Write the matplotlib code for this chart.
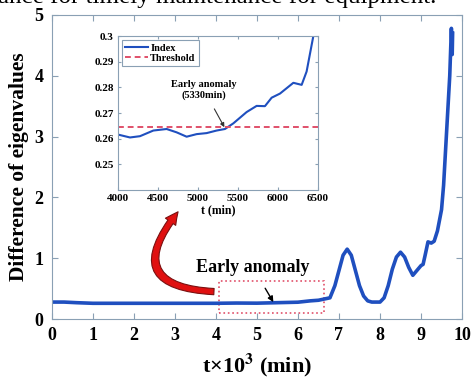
import matplotlib
matplotlib.use("Agg")
import matplotlib.pyplot as plt
from matplotlib.patches import Rectangle, FancyArrowPatch

plt.rcParams['font.family'] = ['Liberation Serif', 'DejaVu Serif']
plt.rcParams['mathtext.fontset'] = 'stix'
plt.rcParams['font.weight'] = 'bold'

# main series (t in 10^3 min)
t_main = [0.0, 0.3, 0.6, 1.0, 1.5, 2.0, 2.5, 3.0, 3.5, 4.0, 4.5, 5.0, 5.5, 6.0, 6.3, 6.5, 6.78,
          6.9, 7.0, 7.1, 7.2, 7.3, 7.4, 7.5, 7.6, 7.7, 7.8, 8.0, 8.1, 8.2, 8.3, 8.4, 8.5,
          8.6, 8.7, 8.8, 8.9, 9.0, 9.05, 9.1, 9.17, 9.25, 9.32, 9.4, 9.5, 9.55, 9.6, 9.65,
          9.7, 9.74, 9.76, 9.77]
v_main = [0.28, 0.28, 0.27, 0.26, 0.26, 0.26, 0.26, 0.26, 0.26, 0.26, 0.264, 0.262, 0.27, 0.278, 0.3, 0.31, 0.35,
          0.55, 0.8, 1.05, 1.15, 1.05, 0.8, 0.55, 0.38, 0.3, 0.28, 0.28, 0.35, 0.55, 0.82, 1.02, 1.1,
          1.02, 0.85, 0.72, 0.8, 0.88, 0.9, 1.05, 1.27, 1.25, 1.28, 1.45, 1.8, 2.2, 2.8, 3.4,
          4.0, 4.78, 4.35, 4.7]

# inset series (t in min)
t_zoom = [4004, 4150, 4275, 4442, 4608, 4733, 4858, 4983, 5108, 5233, 5337, 5442, 5608, 5733,
          5837, 5921, 6025, 6192, 6296, 6358, 6442]
v_zoom = [0.2616, 0.2605, 0.261, 0.2632, 0.2638, 0.2625, 0.2608, 0.2618, 0.2622, 0.2632, 0.2638,
          0.266, 0.2704, 0.2728, 0.2727, 0.276, 0.2776, 0.2818, 0.281, 0.2862, 0.30]
threshold = 0.2645

blue = '#1f4fbf'
red = '#e0506a'
spine_c = '#8aa0b4'

fig = plt.figure(figsize=(4.71, 3.84), dpi=100)
fig.text(-0.005, 0.992, 'ance for timely maintenance for equipment.', fontsize=18,
         fontweight='normal', ha='left', va='baseline')

ax = fig.add_axes([0.110, 0.169, 0.871, 0.792])
ax.plot(t_main, v_main, color=blue, lw=2.6)
ax.set_xlim(0, 10)
ax.set_ylim(0, 5)
ax.set_xticks(range(0, 11))
ax.set_yticks(range(0, 6))
ax.tick_params(direction='in', top=True, right=True, color=spine_c, labelsize=13,
               length=4, pad=6)
for lab in ax.get_xticklabels() + ax.get_yticklabels():
    lab.set_fontweight('bold')
for s in ax.spines.values():
    s.set_color(spine_c)
ax.set_xlabel(r't×10$^{\mathbf{3}}$ (min)', fontsize=16, fontweight='bold', labelpad=5)
ax.set_ylabel('Difference of eigenvalues', fontsize=15.5, fontweight='bold', labelpad=4)

ax.add_patch(Rectangle((4.07, 0.1), 2.56, 0.52, fill=False, edgecolor=red, lw=1.2,
                       linestyle=':'))
ax.annotate('Early anomaly', xy=(5.4, 0.28), xytext=(4.9, 0.85), fontsize=13,
            fontweight='bold', ha='center', va='center',
            arrowprops=dict(arrowstyle='-|>', color='black', lw=1.0,
                            shrinkA=8, shrinkB=0, mutation_scale=8))

arrow = FancyArrowPatch((4.02, 0.45), (3.12, 1.80), connectionstyle='arc3,rad=-1.0',
                        arrowstyle='simple,head_width=9,head_length=9,tail_width=4.5',
                        facecolor='#e01010', edgecolor='#7a1010', lw=0.8,
                        transform=ax.transData)
ax.add_patch(arrow)

ins = fig.add_axes([0.2505, 0.505, 0.4246, 0.401])
ins.plot(t_zoom, v_zoom, color=blue, lw=1.5, label='Index')
ins.axhline(threshold, color=red, lw=1.4, ls=(0, (3, 2)), label='Threshold')
ins.set_xlim(4000, 6500)
ins.set_ylim(0.24, 0.30)
ins.set_xticks([4000, 4500, 5000, 5500, 6000, 6500])
ins.set_yticks([0.25, 0.26, 0.27, 0.28, 0.29, 0.3])
ins.set_yticklabels(['0.25', '0.26', '0.27', '0.28', '0.29', '0.3'])
ins.tick_params(direction='in', top=True, right=True, color=spine_c, labelsize=8,
                length=2.5, pad=3)
for lab in ins.get_xticklabels() + ins.get_yticklabels():
    lab.set_fontweight('bold')
for s in ins.spines.values():
    s.set_color(spine_c)
ins.set_xlabel('t (min)', fontsize=8.5, fontweight='bold', labelpad=1)
leg = ins.legend(loc='upper left', prop={'weight': 'bold', 'size': 7.5},
                 handlelength=2.2, handletextpad=0.2, borderpad=0.3, labelspacing=0.1,
                 fancybox=False, framealpha=1, borderaxespad=0.4)
leg.get_frame().set_edgecolor(spine_c)
leg.get_frame().set_linewidth(0.8)
ins.annotate('Early anomaly\n(5330min)', xy=(5330, threshold), xytext=(5075, 0.279),
             fontsize=7.5, fontweight='bold', ha='center', va='center',
             arrowprops=dict(arrowstyle='-|>', color='#333333', lw=0.8,
                             shrinkA=5, shrinkB=0, mutation_scale=6))

fig.savefig('out.png', dpi=100)
